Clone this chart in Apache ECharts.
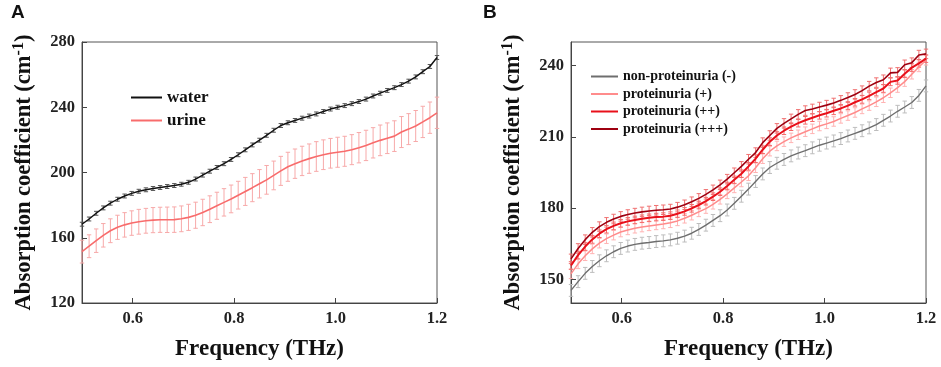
<!DOCTYPE html>
<html>
<head>
<meta charset="utf-8">
<script src="https://cdn.jsdelivr.net/npm/echarts@6/dist/echarts.min.js"></script>
<style>
html, body { margin: 0; padding: 0; background: #fff; }
#chart { width: 941px; height: 367px; }
</style>
</head>
<body>
<div id="chart"></div>
<script>
// frequency points (THz)
var freq = [0.500, 0.514, 0.528, 0.542, 0.556, 0.570, 0.584, 0.598, 0.612, 0.626,
    0.640, 0.654, 0.668, 0.682, 0.696, 0.710, 0.724, 0.738, 0.752, 0.766,
    0.780, 0.794, 0.808, 0.822, 0.836, 0.850, 0.864, 0.878, 0.892, 0.906,
    0.920, 0.934, 0.948, 0.962, 0.976, 0.990, 1.004, 1.018, 1.032, 1.046,
    1.060, 1.074, 1.088, 1.102, 1.116, 1.130, 1.144, 1.158, 1.172, 1.186, 1.200];

// panel A
var water = [168.3, 171.5, 175.0, 178.3, 181.2, 183.6, 185.6, 187.2, 188.5, 189.4,
    190.2, 190.8, 191.4, 192.0, 192.8, 194.0, 196.0, 198.4, 200.8, 203.1,
    205.4, 208.0, 210.9, 213.9, 216.9, 219.8, 222.8, 225.9, 228.8, 230.5,
    231.9, 233.3, 234.6, 235.9, 237.4, 238.9, 240.0, 241.0, 242.2, 243.5,
    245.0, 246.9, 248.6, 250.3, 252.0, 253.9, 256.0, 258.6, 261.8, 265.0, 270.5];
var urine = [151.5, 154.8, 158.2, 161.5, 164.3, 166.4, 167.9, 169.0, 169.8, 170.4,
    170.8, 171.0, 171.0, 171.1, 171.6, 172.5, 173.8, 175.5, 177.5, 179.6,
    181.7, 183.8, 186.1, 188.4, 190.7, 193.1, 195.5, 198.2, 201.0, 203.5,
    205.4, 207.1, 208.5, 209.8, 210.9, 211.8, 212.4, 213.0, 214.0, 215.2,
    216.6, 218.2, 219.7, 221.0, 222.3, 224.8, 226.6, 228.5, 231.0, 233.6, 236.6];
var urineErr = [7.0, 7.0, 7.2, 7.2, 7.3, 7.4, 7.5, 7.5, 7.6, 7.6,
    7.7, 7.7, 7.8, 7.8, 7.9, 8.0, 8.0, 8.1, 8.2, 8.3,
    8.4, 8.5, 8.5, 8.6, 8.6, 8.7, 8.8, 8.8, 8.9, 8.9,
    9.0, 9.0, 9.0, 9.1, 9.1, 9.1, 9.2, 9.2, 9.2, 9.3,
    9.3, 9.3, 9.4, 9.4, 9.4, 9.5, 9.5, 9.5, 9.6, 9.6, 9.6];
var waterErr = 1.2;

// panel B
var nonProt = [145.3, 149.0, 152.5, 155.4, 157.8, 159.9, 161.6, 163.0, 164.0, 164.7,
    165.2, 165.5, 165.9, 166.2, 166.6, 167.3, 168.2, 169.4, 171.0, 172.8,
    174.8, 176.8, 179.2, 182.0, 185.0, 188.0, 191.2, 194.4, 197.1, 198.9,
    200.5, 202.0, 203.2, 204.2, 205.4, 206.5, 207.4, 208.3, 209.3, 210.4,
    211.5, 212.6, 213.8, 215.2, 217.0, 218.8, 220.8, 222.6, 224.5, 227.5, 231.5];
var prot1 = [152.3, 156.5, 159.9, 162.8, 165.2, 167.1, 168.6, 169.9, 170.8, 171.5,
    172.0, 172.5, 172.9, 173.3, 173.8, 174.6, 175.7, 177.0, 178.4, 179.8,
    181.6, 183.7, 186.0, 188.5, 191.0, 193.6, 197.0, 200.8, 204.0, 206.2,
    208.0, 209.6, 210.9, 212.2, 213.4, 214.6, 215.5, 216.5, 217.8, 219.0,
    220.3, 221.8, 223.2, 224.8, 226.5, 228.6, 230.8, 233.3, 236.4, 239.5, 242.3];
var prot2 = [155.8, 160.2, 163.8, 166.8, 169.2, 171.1, 172.5, 173.6, 174.4, 175.0,
    175.5, 175.9, 176.2, 176.4, 176.8, 177.6, 178.6, 179.9, 181.3, 182.9,
    184.8, 186.9, 189.3, 191.9, 194.5, 197.6, 200.8, 204.6, 208.0, 210.6,
    212.6, 214.3, 215.8, 217.0, 218.1, 219.1, 220.0, 221.0, 222.0, 223.2,
    224.6, 225.8, 227.3, 228.9, 230.4, 233.2, 233.8, 236.6, 239.2, 241.0, 243.0];
var prot3 = [158.6, 163.0, 166.7, 169.8, 172.2, 174.0, 175.4, 176.5, 177.3, 177.9,
    178.4, 178.8, 179.1, 179.3, 179.6, 180.4, 181.4, 182.7, 184.1, 185.8,
    187.7, 189.8, 192.2, 194.9, 197.6, 200.6, 203.4, 207.6, 210.6, 213.6,
    215.7, 217.6, 219.5, 221.1, 221.8, 222.6, 223.4, 224.3, 225.4, 226.6,
    227.9, 229.5, 231.4, 232.9, 234.1, 237.0, 237.2, 240.4, 241.3, 244.5, 245.0];
var nonProtErr = 2.5;
var prot1Err = 2.0;
var prot2Err = 1.6;
var prot3Err = 2.0;

var xTicks = [0.6, 0.8, 1.0, 1.2];
var yTicksA = [120, 160, 200, 240, 280];
var yTicksB = [150, 180, 210, 240];

var serif = '"Liberation Serif", "Times New Roman", serif';
var sans = '"Liberation Sans", Arial, sans-serif';

function pairs(ys) {
    return freq.map(function (x, i) { return [x, ys[i]]; });
}

function errData(ys, err) {
    return freq.map(function (x, i) {
        var e = Array.isArray(err) ? err[i] : err;
        return [x, ys[i] - e, ys[i] + e];
    });
}

function errSeries(name, idx, ys, err, color, z) {
    return {
        name: name,
        type: 'custom',
        xAxisIndex: idx,
        yAxisIndex: idx,
        z: z,
        silent: true,
        encode: { x: 0, y: [1, 2] },
        renderItem: function (params, api) {
            var x = api.value(0);
            var lo = api.coord([x, api.value(1)]);
            var hi = api.coord([x, api.value(2)]);
            var w = 2.2;
            var st = { stroke: color, lineWidth: 1 };
            return {
                type: 'group',
                children: [
                    { type: 'line', shape: { x1: lo[0], y1: lo[1], x2: hi[0], y2: hi[1] }, style: st },
                    { type: 'line', shape: { x1: lo[0] - w, y1: lo[1], x2: lo[0] + w, y2: lo[1] }, style: st },
                    { type: 'line', shape: { x1: hi[0] - w, y1: hi[1], x2: hi[0] + w, y2: hi[1] }, style: st }
                ]
            };
        },
        data: errData(ys, err)
    };
}

function lineSeries(name, idx, ys, color, width, z) {
    return {
        name: name,
        type: 'line',
        xAxisIndex: idx,
        yAxisIndex: idx,
        z: z,
        showSymbol: false,
        symbol: 'none',
        silent: true,
        itemStyle: { color: color },
        lineStyle: { color: color, width: width },
        data: pairs(ys)
    };
}

function xAxis(idx) {
    return {
        type: 'value',
        gridIndex: idx,
        min: 0.5,
        max: 1.2,
        name: 'Frequency (THz)',
        nameLocation: 'middle',
        nameGap: 35,
        nameTextStyle: { fontFamily: serif, fontWeight: 'bold', fontSize: 23, color: '#111' },
        axisLine: { lineStyle: { color: '#444', width: 1 } },
        axisTick: { inside: true, length: 5, customValues: xTicks, lineStyle: { color: '#444' } },
        axisLabel: {
            customValues: xTicks,
            margin: 7,
            fontFamily: serif, fontWeight: 'bold', fontSize: 16.5, color: '#222',
            formatter: function (v) { return v.toFixed(1); }
        },
        splitLine: { show: false }
    };
}

function yAxis(idx, min, max, ticks) {
    return {
        type: 'value',
        gridIndex: idx,
        min: min,
        max: max,
        name: '{a|Absorption coefficient (cm}{s|-1}{a|)}',
        nameLocation: 'middle',
        nameGap: 44,
        nameRotate: 90,
        nameTextStyle: {
            rich: {
                a: { fontFamily: serif, fontWeight: 'bold', fontSize: 22.5, color: '#111' },
                s: { fontFamily: serif, fontWeight: 'bold', fontSize: 16, color: '#111', verticalAlign: 'bottom', padding: [0, 0, 11, 0] }
            }
        },
        axisLine: { lineStyle: { color: '#444', width: 1 } },
        axisTick: { inside: true, length: 5, customValues: ticks, lineStyle: { color: '#444' } },
        axisLabel: {
            customValues: ticks,
            margin: 7,
            fontFamily: serif, fontWeight: 'bold', fontSize: 16.5, color: '#222'
        },
        splitLine: { show: false }
    };
}

var myChart = echarts.init(document.getElementById('chart'), null, { renderer: 'canvas' });

var option = {
    animation: false,
    backgroundColor: '#fff',
    graphic: [
        { type: 'text', left: 11, top: 3, style: { text: 'A', fontFamily: sans, fontWeight: 'bold', fontSize: 19, fill: '#111' } },
        { type: 'text', left: 483, top: 3, style: { text: 'B', fontFamily: sans, fontWeight: 'bold', fontSize: 19, fill: '#111' } }
    ],
    grid: [
        { left: 82, top: 42, width: 355, height: 261, show: true, borderColor: '#555', borderWidth: 1 },
        { left: 571, top: 42, width: 355, height: 261, show: true, borderColor: '#555', borderWidth: 1 }
    ],
    legend: [
        {
            data: ['water', 'urine'],
            left: 131, top: 89, orient: 'vertical', padding: 0,
            icon: 'rect', itemWidth: 31, itemHeight: 2, itemGap: 6,
            selectedMode: false,
            textStyle: { fontFamily: serif, fontWeight: 'bold', fontSize: 17, color: '#111' }
        },
        {
            data: ['non-proteinuria (-)', 'proteinuria (+)', 'proteinuria (++)', 'proteinuria (+++)'],
            left: 591, top: 69.5, orient: 'vertical', padding: 0,
            icon: 'rect', itemWidth: 27, itemHeight: 2, itemGap: 3.5,
            selectedMode: false,
            textStyle: { fontFamily: serif, fontWeight: 'bold', fontSize: 14, color: '#111' }
        }
    ],
    xAxis: [xAxis(0), xAxis(1)],
    yAxis: [yAxis(0, 120, 280, yTicksA), yAxis(1, 140, 250, yTicksB)],
    series: [
        errSeries('waterErr', 0, water, waterErr, '#555', 3),
        errSeries('urineErr', 0, urine, urineErr, '#f7a9a9', 2),
        lineSeries('water', 0, water, '#111', 1.4, 5),
        lineSeries('urine', 0, urine, '#f86c6c', 1.6, 5),

        errSeries('nonProtErr', 1, nonProt, nonProtErr, '#bdbdbd', 2),
        errSeries('prot1Err', 1, prot1, prot1Err, '#ffb3b3', 2),
        errSeries('prot2Err', 1, prot2, prot2Err, '#f56a6a', 2),
        errSeries('prot3Err', 1, prot3, prot3Err, '#f07070', 2),
        lineSeries('non-proteinuria (-)', 1, nonProt, '#6e6e6e', 1.4, 5),
        lineSeries('proteinuria (+)', 1, prot1, '#ff8c8c', 1.5, 5),
        lineSeries('proteinuria (++)', 1, prot2, '#e8101a', 2, 6),
        lineSeries('proteinuria (+++)', 1, prot3, '#9e0010', 1.6, 6)
    ]
};

myChart.setOption(option);
</script>
</body>
</html>
